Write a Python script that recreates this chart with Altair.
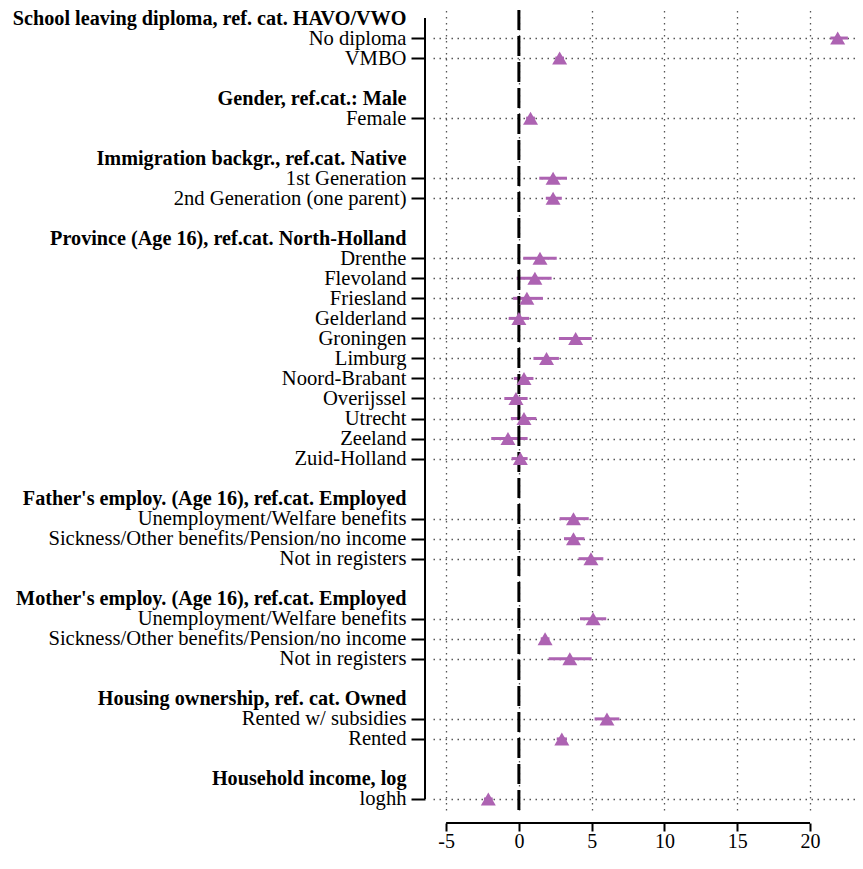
import json
import altair as alt
import pandas as pd

# ---- data ----
group_titles = [
    "School leaving diploma, ref. cat. HAVO/VWO",
    "Gender, ref.cat.: Male",
    "Immigration backgr., ref.cat. Native",
    "Province (Age 16), ref.cat. North-Holland",
    "Father's employ. (Age 16), ref.cat. Employed",
    "Mother's employ. (Age 16), ref.cat. Employed",
    "Housing ownership, ref. cat. Owned",
    "Household income, log",
]
group_items = [
    ["No diploma", "VMBO"],
    ["Female"],
    ["1st Generation", "2nd Generation (one parent)"],
    ["Drenthe", "Flevoland", "Friesland", "Gelderland", "Groningen", "Limburg",
     "Noord-Brabant", "Overijssel", "Utrecht", "Zeeland", "Zuid-Holland"],
    ["Unemployment/Welfare benefits", "Sickness/Other benefits/Pension/no income", "Not in registers"],
    ["Unemployment/Welfare benefits", "Sickness/Other benefits/Pension/no income", "Not in registers"],
    ["Rented w/ subsidies", "Rented"],
    ["loghh"],
]
estimate = [21.9, 2.8,
            0.8,
            2.35, 2.35,
            1.45, 1.1, 0.55, 0.0, 3.9, 1.9, 0.35, -0.2, 0.35, -0.75, 0.1,
            3.75, 3.75, 4.95,
            5.1, 1.8, 3.5,
            6.05, 2.95,
            -2.1]
ci_low = [21.4, 2.5,
          0.5,
          1.4, 1.85,
          0.3, -0.15, -0.4, -0.7, 2.75, 1.0, -0.35, -1.0, -0.55, -1.9, -0.5,
          2.8, 3.1, 4.1,
          4.2, 1.5, 2.05,
          5.2, 2.6,
          -2.4]
ci_high = [22.6, 3.1,
           1.1,
           3.3, 2.95,
           2.6, 2.25, 1.65, 0.7, 5.0, 2.75, 1.0, 0.6, 1.2, 0.6, 0.6,
           4.8, 4.5, 5.8,
           6.0, 2.1, 5.0,
           6.9, 3.3,
           -1.8]
x_ticks = [-5, 0, 5, 10, 15, 20]

# ---- build row layout (header row, item rows, blank row) ----
labels, header_rows, item_rows = [], [], []
for gi, (title, items) in enumerate(zip(group_titles, group_items)):
    if gi > 0:
        labels.append("")
    header_rows.append(len(labels))
    labels.append(title)
    for it in items:
        item_rows.append(len(labels))
        labels.append(it)
n_rows = len(labels)

df = pd.DataFrame({
    "row": item_rows,
    "label": [l for g in group_items for l in g],
    "est": estimate,
    "lo": ci_low,
    "hi": ci_high,
})

FONT = "Liberation Serif"
PURPLE = "#AD63B2"
GRID = "#555555"

hdr_test = "indexof(" + json.dumps(header_rows) + ", datum.value) >= 0"
item_test = "indexof(" + json.dumps(item_rows) + ", datum.value) >= 0"

xscale = alt.Scale(domain=[-5.9, 23.09], nice=False, zero=False)
yscale = alt.Scale(domain=[-0.4, n_rows - 1 + 0.55], reverse=True, nice=False, zero=False)

yaxis = alt.Axis(
    values=list(range(n_rows)), tickCount=200,
    labelExpr=json.dumps(labels) + "[datum.value]",
    labelFontWeight={"condition": {"test": hdr_test, "value": "bold"}, "value": "normal"},
    labelFontSize={"condition": {"test": hdr_test, "value": 20.2}, "value": 20.6},
    tickOpacity={"condition": {"test": item_test, "value": 1}, "value": 0},
    gridOpacity={"condition": {"test": item_test, "value": 1}, "value": 0},
    grid=True, gridDash=[1.5, 4.5], gridColor=GRID, gridWidth=1.3,
    domain=False, offset=8, tickSize=14, tickWidth=2, tickColor="black",
    labelPadding=5, labelFont=FONT, labelColor="black",
    labelLimit=0, labelBaseline="middle", labelOverlap=False, labelBound=False,
    labelFlush=False, title=None,
)
xaxis = alt.Axis(
    values=x_ticks, tickCount=50, grid=True, gridDash=[1.5, 4.5], gridColor=GRID, gridWidth=1.3,
    domain=False, offset=13, tickSize=8, tickWidth=2, tickColor="black",
    labelPadding=0, labelFont=FONT, labelFontSize=20, labelColor="black",
    labelExpr="datum.value + ''", labelOverlap=False, labelFlush=False,
    title=None,
)

base = alt.Chart(df)

ci = base.mark_rule(color=PURPLE, strokeWidth=3).encode(
    x=alt.X("lo:Q", scale=xscale, axis=xaxis),
    x2="hi:Q",
    y=alt.Y("row:Q", scale=yscale, axis=yaxis),
)
pts = base.mark_point(shape="triangle-up", filled=True, size=225, opacity=1,
                      color=PURPLE).encode(
    x=alt.X("est:Q", scale=xscale, axis=xaxis),
    y=alt.Y("row:Q", scale=yscale, axis=yaxis),
)

zero = alt.Chart(pd.DataFrame({"z": [0]})).mark_rule(
    color="black", strokeWidth=3, strokeDash=[20, 6]).encode(x="z:Q")

yline = alt.Chart(pd.DataFrame({"a": [0], "b": [n_rows - 1]})).mark_rule(
    color="black", strokeWidth=2).encode(x=alt.value(-8), y="a:Q", y2="b:Q")

xline = alt.Chart(pd.DataFrame({"a": [x_ticks[0]], "b": [x_ticks[-1]]})).mark_rule(
    color="black", strokeWidth=2).encode(x="a:Q", x2="b:Q", y=alt.value(813))

chart = alt.layer(ci, zero, pts, yline, xline).properties(
    width=422, height=800,
    autosize=alt.AutoSizeParams(type="none"),
    padding={"left": 425, "top": 2, "right": 0, "bottom": 46},
    background="white",
).configure_view(stroke=None).configure_axis(labelOverlap=False)

chart.save("out.html", embed_options={"renderer": "svg", "actions": False})
